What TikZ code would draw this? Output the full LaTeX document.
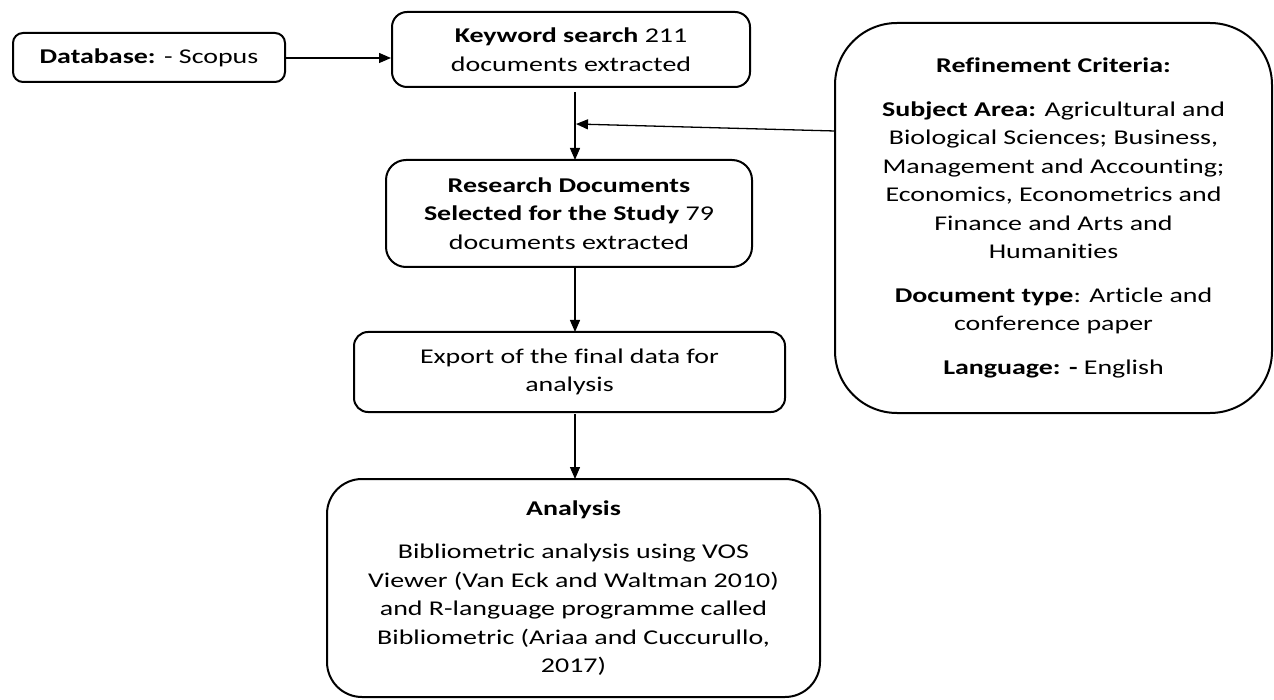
\documentclass[tikz,border=0pt]{standalone}
\usepackage{fontspec}
\setmainfont{Carlito}[FakeStretch=1.33,Ligatures={NoCommon}]
\usetikzlibrary{arrows.meta,calc}
\begin{document}
\begin{tikzpicture}[x=1pt,y=-1pt,
  box/.style={draw=black,line width=2pt,align=center,inner sep=0pt,
    font=\fontsize{21}{28.5}\selectfont,text=black},
  conn/.style={line width=1.3pt,-{Triangle[length=12pt,width=10pt]}}]
\useasboundingbox (0,0) rectangle (1274,700);
\node[box,rounded corners=10pt,minimum width=272pt,minimum height=49pt] (db) at (149,57.5)
  {\textbf{Database:} - Scopus};
\node[box,rounded corners=15pt,minimum width=358pt,minimum height=75pt] (kw) at (571,49.5)
  {\textbf{Keyword search} 211\\documents extracted};
\node[box,rounded corners=20pt,minimum width=366pt,minimum height=107pt] (rs) at (569,213.5)
  {\textbf{Research Documents}\\\textbf{Selected for the Study} 79\\documents extracted};
\node[box,rounded corners=14pt,minimum width=431pt,minimum height=80pt] (ex) at (569.5,372)
  {Export of the final data for\\analysis};
\node[box,rounded corners=35pt,minimum width=493pt,minimum height=218pt] (an) at (573.5,588)
  {\textbf{Analysis}\\[15pt]Bibliometric analysis using VOS\\Viewer (Van Eck and Waltman 2010)\\and R-language programme called\\Bibliometric (Ariaa and Cuccurullo,\\2017)};
\node[box,rounded corners=62pt,minimum width=437pt,minimum height=390pt] (rf) at (1053.5,218)
  {\textbf{Refinement Criteria:}\\[15pt]\textbf{Subject Area:} Agricultural and\\Biological Sciences; Business,\\Management and Accounting;\\Economics, Econometrics and\\Finance and Arts and\\Humanities\\[15pt]\textbf{Document type}: Article and\\conference paper\\[15pt]\textbf{Language: -} English};
\coordinate (kwout) at (575,92);
\coordinate (rsin) at (575,160);
\coordinate (rsout) at (575,267);
\coordinate (exin) at (575,332);
\coordinate (exout) at (575,414);
\coordinate (anin) at (575,479);
\coordinate (rfout) at (835,131);
\coordinate (join) at (576,124);
\draw[conn] (db.east |- 0,58) -- (kw.west |- 0,58);
\draw[conn] (kwout) -- (rsin);
\draw[conn] (rsout) -- (exin);
\draw[conn] (exout) -- (anin);
\draw[conn] (rfout) -- (join);
\end{tikzpicture}
\end{document}
